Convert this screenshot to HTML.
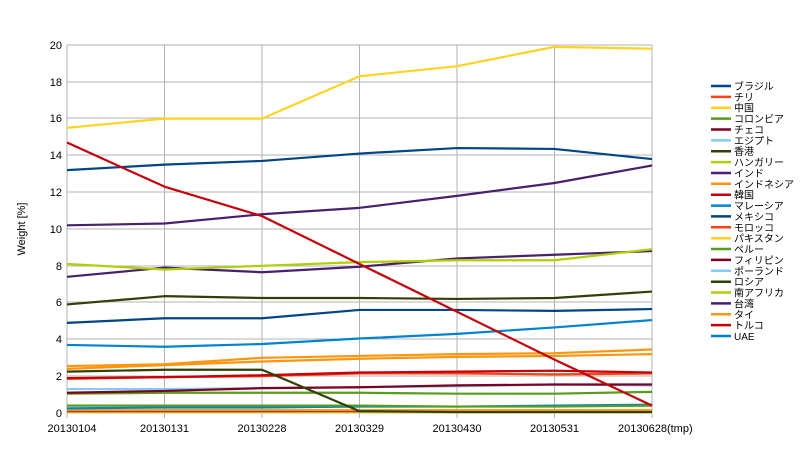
<!DOCTYPE html>
<html><head><meta charset="utf-8"><style>
body{margin:0;background:#fff;}
svg text{font-family:"Liberation Sans","Noto Sans CJK JP",sans-serif;}
</style></head><body>
<svg width="800" height="450" xmlns="http://www.w3.org/2000/svg">
<rect width="800" height="450" fill="#fff"/>
<g stroke="#b3b3b3" stroke-width="1">
<line x1="67" y1="45" x2="652" y2="45"/><line x1="67" y1="82" x2="652" y2="82"/><line x1="67" y1="118" x2="652" y2="118"/><line x1="67" y1="155" x2="652" y2="155"/><line x1="67" y1="192" x2="652" y2="192"/><line x1="67" y1="229" x2="652" y2="229"/><line x1="67" y1="266" x2="652" y2="266"/><line x1="67" y1="302" x2="652" y2="302"/><line x1="67" y1="339" x2="652" y2="339"/><line x1="67" y1="376" x2="652" y2="376"/><line x1="67" y1="413" x2="652" y2="413"/>
<line x1="67" y1="45" x2="67" y2="418"/><line x1="164.5" y1="45" x2="164.5" y2="418"/><line x1="262" y1="45" x2="262" y2="418"/><line x1="359.5" y1="45" x2="359.5" y2="418"/><line x1="457" y1="45" x2="457" y2="418"/><line x1="554.5" y1="45" x2="554.5" y2="418"/><line x1="652" y1="45" x2="652" y2="418"/>
</g>
<g font-size="11" text-anchor="end" fill="#000">
<text x="62" y="49">20</text><text x="62" y="86">18</text><text x="62" y="122">16</text><text x="62" y="159">14</text><text x="62" y="196">12</text><text x="62" y="233">10</text><text x="62" y="270">8</text><text x="62" y="306">6</text><text x="62" y="343">4</text><text x="62" y="380">2</text><text x="62" y="417">0</text>
</g>
<g font-size="11" text-anchor="middle" fill="#000">
<text x="72" y="432">20130104</text><text x="164.5" y="432">20130131</text><text x="262" y="432">20130228</text><text x="359.5" y="432">20130329</text><text x="457" y="432">20130430</text><text x="554.5" y="432">20130531</text><text x="618" y="432" text-anchor="start">20130628(tmp)</text>
</g>
<text x="0" y="0" font-size="11" transform="translate(25,229) rotate(-90)" text-anchor="middle">Weight [%]</text>
<g transform="translate(67,413) scale(97.5,-18.4)" fill="none" stroke-width="2.2" stroke-linejoin="round">
<polyline vector-effect="non-scaling-stroke" stroke="#ffd320" points="0,0.05 6,0.05"/>
<polyline vector-effect="non-scaling-stroke" stroke="#7e0021" points="0,0.1 6,0.1"/>
<polyline vector-effect="non-scaling-stroke" stroke="#ff950e" points="0,0.15 6,0.15"/>
<polyline vector-effect="non-scaling-stroke" stroke="#0084d1" points="0,0.25 1,0.3 2,0.3 3,0.35 4,0.35 5,0.4 6,0.45"/>
<polyline vector-effect="non-scaling-stroke" stroke="#579d1c" points="0,0.4 1,0.4 2,0.4 3,0.4 4,0.35 5,0.35 6,0.4"/>
<polyline vector-effect="non-scaling-stroke" stroke="#579d1c" points="0,1.05 1,1.1 2,1.1 3,1.1 4,1.05 5,1.05 6,1.15"/>
<polyline vector-effect="non-scaling-stroke" stroke="#83caff" points="0,1.3 1,1.3 2,1.35 3,1.4 4,1.45 5,1.55 6,1.5"/>
<polyline vector-effect="non-scaling-stroke" stroke="#7e0021" points="0,1.1 1,1.2 2,1.35 3,1.4 4,1.5 5,1.55 6,1.55"/>
<polyline vector-effect="non-scaling-stroke" stroke="#ff420e" points="0,1.85 1,1.95 2,2.0 3,2.15 4,2.15 5,2.1 6,2.15"/>
<polyline vector-effect="non-scaling-stroke" stroke="#c5000b" points="0,1.9 1,1.95 2,2.05 3,2.2 4,2.25 5,2.3 6,2.2"/>
<polyline vector-effect="non-scaling-stroke" stroke="#314004" points="0,2.25 1,2.35 2,2.35 3,0.1 4,0.05 5,0.05 6,0.05"/>
<polyline vector-effect="non-scaling-stroke" stroke="#ff950e" points="0,2.4 1,2.6 2,2.8 3,2.95 4,3.05 5,3.1 6,3.2"/>
<polyline vector-effect="non-scaling-stroke" stroke="#ff950e" points="0,2.55 1,2.65 2,3.0 3,3.1 4,3.2 5,3.25 6,3.45"/>
<polyline vector-effect="non-scaling-stroke" stroke="#0084d1" points="0,3.7 1,3.6 2,3.75 3,4.05 4,4.3 5,4.65 6,5.05"/>
<polyline vector-effect="non-scaling-stroke" stroke="#004586" points="0,4.9 1,5.15 2,5.15 3,5.6 4,5.6 5,5.55 6,5.65"/>
<polyline vector-effect="non-scaling-stroke" stroke="#314004" points="0,5.9 1,6.35 2,6.25 3,6.25 4,6.2 5,6.25 6,6.6"/>
<polyline vector-effect="non-scaling-stroke" stroke="#4b1f6f" points="0,7.4 1,7.9 2,7.65 3,7.95 4,8.4 5,8.6 6,8.8"/>
<polyline vector-effect="non-scaling-stroke" stroke="#aecf00" points="0,8.1 1,7.8 2,8.0 3,8.2 4,8.3 5,8.3 6,8.9"/>
<polyline vector-effect="non-scaling-stroke" stroke="#4b1f6f" points="0,10.2 1,10.3 2,10.8 3,11.15 4,11.8 5,12.5 6,13.45"/>
<polyline vector-effect="non-scaling-stroke" stroke="#004586" points="0,13.2 1,13.5 2,13.7 3,14.1 4,14.4 5,14.35 6,13.8"/>
<polyline vector-effect="non-scaling-stroke" stroke="#ffd320" points="0,15.5 1,16 2,16 3,18.3 4,18.85 5,19.9 6,19.8"/>
<polyline vector-effect="non-scaling-stroke" stroke="#c5000b" points="0,14.7 1,12.3 2,10.7 3,8.1 4,5.5 5,2.9 6,0.4"/>
</g>
<g font-size="10" fill="#000" stroke-width="2.5">
<line x1="711" y1="86" x2="731" y2="86" stroke="#004586"/><text x="734" y="90">ブラジル</text>
<line x1="711" y1="96.9" x2="731" y2="96.9" stroke="#ff420e"/><text x="734" y="100.9">チリ</text>
<line x1="711" y1="107.7" x2="731" y2="107.7" stroke="#ffd320"/><text x="734" y="111.7">中国</text>
<line x1="711" y1="118.6" x2="731" y2="118.6" stroke="#579d1c"/><text x="734" y="122.6">コロンビア</text>
<line x1="711" y1="129.5" x2="731" y2="129.5" stroke="#7e0021"/><text x="734" y="133.5">チェコ</text>
<line x1="711" y1="140.4" x2="731" y2="140.4" stroke="#83caff"/><text x="734" y="144.4">エジプト</text>
<line x1="711" y1="151.2" x2="731" y2="151.2" stroke="#314004"/><text x="734" y="155.2">香港</text>
<line x1="711" y1="162.1" x2="731" y2="162.1" stroke="#aecf00"/><text x="734" y="166.1">ハンガリー</text>
<line x1="711" y1="173" x2="731" y2="173" stroke="#4b1f6f"/><text x="734" y="177">インド</text>
<line x1="711" y1="183.8" x2="731" y2="183.8" stroke="#ff950e"/><text x="734" y="187.8">インドネシア</text>
<line x1="711" y1="194.7" x2="731" y2="194.7" stroke="#c5000b"/><text x="734" y="198.7">韓国</text>
<line x1="711" y1="205.6" x2="731" y2="205.6" stroke="#0084d1"/><text x="734" y="209.6">マレーシア</text>
<line x1="711" y1="216.4" x2="731" y2="216.4" stroke="#004586"/><text x="734" y="220.4">メキシコ</text>
<line x1="711" y1="227.3" x2="731" y2="227.3" stroke="#ff420e"/><text x="734" y="231.3">モロッコ</text>
<line x1="711" y1="238.2" x2="731" y2="238.2" stroke="#ffd320"/><text x="734" y="242.2">パキスタン</text>
<line x1="711" y1="249" x2="731" y2="249" stroke="#579d1c"/><text x="734" y="253">ペルー</text>
<line x1="711" y1="259.9" x2="731" y2="259.9" stroke="#7e0021"/><text x="734" y="263.9">フィリピン</text>
<line x1="711" y1="270.8" x2="731" y2="270.8" stroke="#83caff"/><text x="734" y="274.8">ポーランド</text>
<line x1="711" y1="281.7" x2="731" y2="281.7" stroke="#314004"/><text x="734" y="285.7">ロシア</text>
<line x1="711" y1="292.5" x2="731" y2="292.5" stroke="#aecf00"/><text x="734" y="296.5">南アフリカ</text>
<line x1="711" y1="303.4" x2="731" y2="303.4" stroke="#4b1f6f"/><text x="734" y="307.4">台湾</text>
<line x1="711" y1="314.3" x2="731" y2="314.3" stroke="#ff950e"/><text x="734" y="318.3">タイ</text>
<line x1="711" y1="325.1" x2="731" y2="325.1" stroke="#c5000b"/><text x="734" y="329.1">トルコ</text>
<line x1="711" y1="336" x2="731" y2="336" stroke="#0084d1"/><text x="734" y="340">UAE</text>
</g>
</svg>
</body></html>
